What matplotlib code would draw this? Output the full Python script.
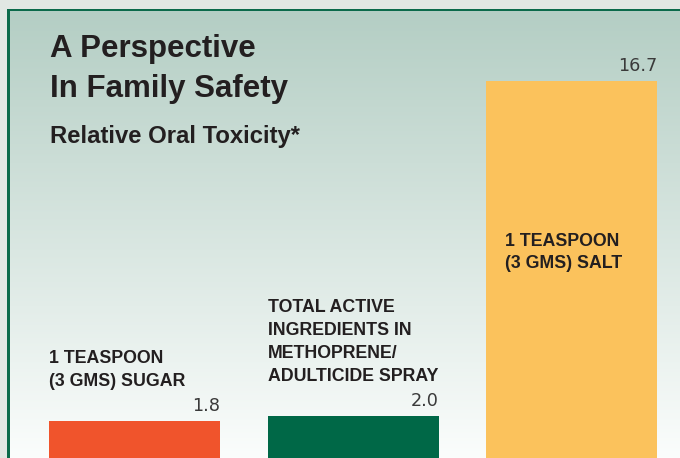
import numpy as np
import matplotlib.pyplot as plt
from matplotlib.patches import Rectangle

values = [1.8, 2.0, 16.7]
value_labels = ["1.8", "2.0", "16.7"]
categories = [
    ["1 TEASPOON", "(3 GMS) SUGAR"],
    ["TOTAL ACTIVE", "INGREDIENTS IN", "METHOPRENE/", "ADULTICIDE SPRAY"],
    ["1 TEASPOON", "(3 GMS) SALT"],
]
colors = ["#f0542c", "#006847", "#fbc25c"]
title_lines = ["A Perspective", "In Family Safety"]
subtitle = "Relative Oral Toxicity*"

W, H = 680, 458
fig = plt.figure(figsize=(W / 100, H / 100), dpi=100)

# background panel, border and gradient (pixel coordinates)
bg = fig.add_axes([0, 0, 1, 1])
bg.set_xlim(0, W)
bg.set_ylim(H, 0)
bg.axis("off")
bg.add_patch(Rectangle((0, 0), W, H, color="#e1e7e3", lw=0))
top = np.array([0xb4, 0xce, 0xc4]) / 255
bottom = np.array([0xfb, 0xfd, 0xfc]) / 255
t = np.linspace(0, 1, 256)[:, None]
grad = top + (bottom - top) * t
bg.imshow(grad[:, None, :], extent=(9.5, W, H, 11), aspect="auto", zorder=1)
bg.add_patch(Rectangle((7, 8.5), 2.7, H, color="#0b6a4a", lw=0, zorder=2))
bg.add_patch(Rectangle((7, 8.5), W, 2.7, color="#0b6a4a", lw=0, zorder=2))

# bars
ax = fig.add_axes([0, 0, 1, 1])
ax.set_facecolor("none")
ax.axis("off")
px_x = 218.5
px_y = 22.82
ax.set_xlim(-134.5 / px_x, (W - 134.5) / px_x)
ax.set_ylim(4.1 / px_y, 462.1 / px_y)

width = 171 / px_x
x = np.arange(len(values))
ax.bar(x, values, width=width, color=colors, zorder=2)

for xi, v, lbl in zip(x, values, value_labels):
    ax.annotate(lbl, (xi + width / 2, v), xytext=(0, 10),
                textcoords="offset pixels", ha="right", va="baseline",
                fontsize=12.7, color="#3a3a3a", family="DejaVu Sans")

for i in range(2):
    lines = categories[i]
    n = len(lines)
    for j, line in enumerate(lines):
        ax.annotate(line, (x[i] - width / 2, values[i]),
                    xytext=(0, 35 + (n - 1 - j) * 23),
                    textcoords="offset pixels", ha="left", va="baseline",
                    fontsize=12.8, weight="bold", color="#231f20",
                    family="Liberation Sans")

for j, line in enumerate(categories[2]):
    ax.annotate(line, (x[2] - width / 2, values[2]),
                xytext=(19, -165 - j * 22),
                textcoords="offset pixels", ha="left", va="baseline",
                fontsize=12.8, weight="bold", color="#231f20",
                family="Liberation Sans")

# titles
fig.text(50 / W, 1 - 57.5 / H, title_lines[0], fontsize=22.5, weight="bold",
         color="#231f20", family="Liberation Sans")
fig.text(50 / W, 1 - 97 / H, title_lines[1], fontsize=22.5, weight="bold",
         color="#231f20", family="Liberation Sans")
fig.text(50 / W, 1 - 143 / H, subtitle, fontsize=17.2, weight="bold",
         color="#231f20", family="Liberation Sans")

fig.savefig("out.png", dpi=100)
